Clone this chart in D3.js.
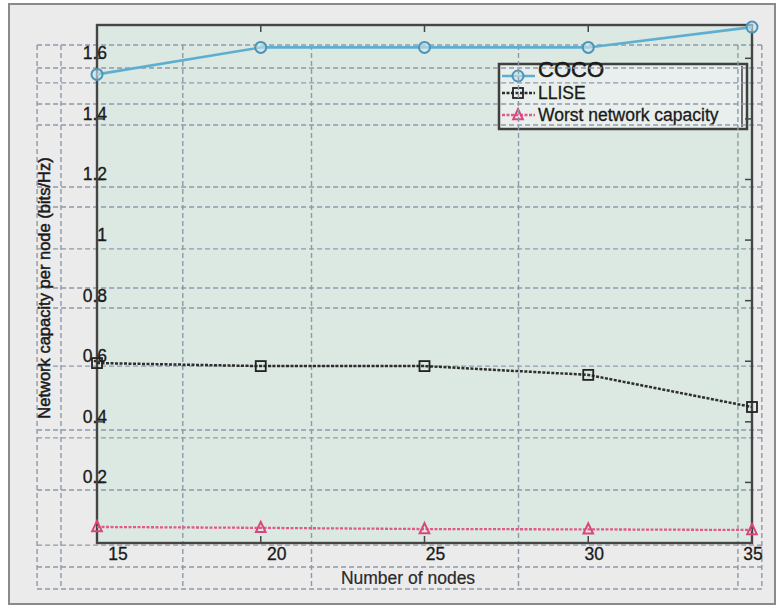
<!DOCTYPE html>
<html>
<head>
<meta charset="utf-8">
<script src="https://cdn.jsdelivr.net/npm/d3@7"></script>
<style>
  html, body { margin: 0; padding: 0; background: #fff; }
  svg { display: block; font-family: "Liberation Sans", Arial, sans-serif; }
</style>
</head>
<body>
<svg id="chart" width="782" height="607"></svg>
<script>
// ── Data ─────────────────────────────────────────────────────────────────────
const nodes = [15, 20, 25, 30, 35];
const coco = [1.547, 1.636, 1.636, 1.636, 1.703];
const llise = [0.594, 0.584, 0.584, 0.555, 0.449];
const worst = [0.053, 0.05, 0.046, 0.045, 0.043];

const yTicks = [0.2, 0.4, 0.6, 0.8, 1, 1.2, 1.4, 1.6];
const xTicks = [15, 20, 25, 30, 35];
const seriesNames = ["COCO", "LLISE", "Worst network capacity"];

// layout guide lines left over in the figure (in data units)
const guideX = [13.17, 13.9, 17.62, 21.55, 27.87, 34.57, 35.3];
const guideY = [1.644, 1.568, 1.519, 1.449, 1.38, 1.175, 1.109, 0.971, 0.842, 0.776,
  0.584, 0.373, 0.347, 0.175, -0.007, -0.079, -0.152];

// ── Chart ────────────────────────────────────────────────────────────────────
const svg = d3.select("#chart");
const plot = { left: 97, right: 752, top: 25, bottom: 543 };

const x = d3.scaleLinear().domain([15, 35]).range([plot.left, plot.right]);
const y = d3.scaleLinear().domain([0, 1.71]).range([plot.bottom, plot.top]);
// tick labels in the original sit a little right of their ticks
const xLabel = d3.scaleLinear().domain([15, 35]).range([118, 753]);

// figure frame
svg.append("rect").attr("x", 9).attr("y", 4).attr("width", 766).attr("height", 600)
  .attr("fill", "#ebebeb").attr("stroke", "#8a8a8a").attr("stroke-width", 2);

// axes background
svg.append("rect")
  .attr("x", plot.left).attr("y", plot.top)
  .attr("width", plot.right - plot.left).attr("height", plot.bottom - plot.top)
  .attr("fill", "#dce8e2");

// legend box
const legend = svg.append("g");
legend.append("rect").attr("x", 499).attr("y", 64).attr("width", 248).attr("height", 65)
  .attr("fill", "#e9efec").attr("stroke", "#3f3f3f").attr("stroke-width", 2.5);
legend.append("line").attr("x1", 742).attr("x2", 742).attr("y1", 66).attr("y2", 127)
  .attr("stroke", "#3f3f3f").attr("stroke-width", 1.5);

// guides
const guides = svg.append("g")
  .attr("stroke", "#8e99a9").attr("stroke-width", 1.4).attr("stroke-dasharray", "5,3").attr("fill", "none");
const gx0 = x(guideX[0]), gx1 = x(guideX[guideX.length - 1]);
const gy0 = y(guideY[0]), gy1 = y(guideY[guideY.length - 1]);
guideY.forEach((v) => {
  guides.append("line").attr("x1", gx0).attr("x2", gx1).attr("y1", y(v)).attr("y2", y(v));
});
guideX.forEach((v) => {
  guides.append("line").attr("x1", x(v)).attr("x2", x(v)).attr("y1", gy0).attr("y2", gy1);
});

// axes box and ticks
const axisColor = "#454545";
svg.append("rect")
  .attr("x", plot.left).attr("y", plot.top)
  .attr("width", plot.right - plot.left).attr("height", plot.bottom - plot.top)
  .attr("fill", "none").attr("stroke", axisColor).attr("stroke-width", 2.4);

const tickLen = 7;
const ticks = svg.append("g").attr("stroke", axisColor).attr("stroke-width", 1.5);
xTicks.slice(1, -1).forEach((v) => {
  ticks.append("line").attr("x1", x(v)).attr("x2", x(v)).attr("y1", plot.bottom).attr("y2", plot.bottom - tickLen);
  ticks.append("line").attr("x1", x(v)).attr("x2", x(v)).attr("y1", plot.top).attr("y2", plot.top + tickLen);
});
yTicks.forEach((v) => {
  ticks.append("line").attr("x1", plot.left).attr("x2", plot.left + tickLen).attr("y1", y(v)).attr("y2", y(v));
  ticks.append("line").attr("x1", plot.right).attr("x2", plot.right - tickLen).attr("y1", y(v)).attr("y2", y(v));
});

// tick labels
const textColor = "#1a1a1a";
svg.append("g").selectAll("text").data(yTicks).join("text")
  .attr("x", 107).attr("y", (d) => y(d) + 1)
  .attr("text-anchor", "end")
  .attr("font-size", "17.5px").attr("fill", textColor)
  .attr("stroke", textColor).attr("stroke-width", 0.3)
  .text((d) => d3.format("~g")(d));

svg.append("g").selectAll("text").data(xTicks).join("text")
  .attr("x", (d) => xLabel(d)).attr("y", 560)
  .attr("text-anchor", "middle")
  .attr("font-size", "17.5px").attr("fill", textColor)
  .attr("stroke", textColor).attr("stroke-width", 0.3)
  .text((d) => d);

// axis titles
svg.append("text")
  .attr("x", 408).attr("y", 584)
  .attr("text-anchor", "middle")
  .attr("font-size", "17.5px").attr("fill", "#2a2a2a")
  .attr("stroke", "#2a2a2a").attr("stroke-width", 0.2)
  .text("Number of nodes");

svg.append("text")
  .attr("transform", "translate(50,288) rotate(-90)")
  .attr("text-anchor", "middle")
  .attr("font-size", "16.5px").attr("fill", textColor)
  .attr("stroke", textColor).attr("stroke-width", 0.5)
  .text("Network capacity per node (bits/Hz)");

// ── Series ───────────────────────────────────────────────────────────────────
const styles = [
  { values: coco, color: "#5eaed0", width: 2.6, dash: null, marker: "circle" },
  { values: llise, color: "#2e2e2e", width: 2.5, dash: "3,1.5", marker: "square" },
  { values: worst, color: "#e05a8a", width: 2.3, dash: "3,1.5", marker: "triangle" },
];

function drawMarker(g, type, cx, cy) {
  if (type === "circle") {
    g.append("circle").attr("cx", cx).attr("cy", cy).attr("r", 5.5)
      .attr("fill", "#cfe4ea").attr("fill-opacity", 0.6).attr("stroke", "#4a95b8").attr("stroke-width", 2);
  } else if (type === "square") {
    g.append("rect").attr("x", cx - 5).attr("y", cy - 5).attr("width", 10).attr("height", 10)
      .attr("fill", "none").attr("stroke", "#222").attr("stroke-width", 1.8);
  } else {
    const s = 6;
    g.append("path")
      .attr("d", `M${cx},${cy - s}L${cx + s * 0.8},${cy + s * 0.7}L${cx - s * 0.8},${cy + s * 0.7}Z`)
      .attr("fill", "none").attr("stroke", "#d9467c").attr("stroke-width", 2);
  }
}

const line = d3.line().x((d) => x(d[0])).y((d) => y(d[1]));
styles.forEach((s) => {
  const pts = nodes.map((n, i) => [n, s.values[i]]);
  const g = svg.append("g");
  g.append("path").datum(pts)
    .attr("d", line)
    .attr("fill", "none")
    .attr("stroke", s.color).attr("stroke-width", s.width)
    .attr("stroke-dasharray", s.dash);
  pts.forEach((p) => drawMarker(g, s.marker, x(p[0]), y(p[1])));
});

// legend entries
const legendRows = [76, 93, 115];
seriesNames.forEach((name, i) => {
  const s = styles[i];
  const ly = legendRows[i];
  legend.append("line").attr("x1", 502).attr("x2", 535).attr("y1", ly).attr("y2", ly)
    .attr("stroke", s.color).attr("stroke-width", s.width).attr("stroke-dasharray", s.dash);
  drawMarker(legend, s.marker, 518, ly);
  legend.append("text")
    .attr("x", 538).attr("y", i === 0 ? ly + 1 : ly + 6)
    .attr("font-size", i === 0 ? "22px" : "17.5px")
    .attr("fill", textColor)
    .attr("stroke", textColor).attr("stroke-width", i === 0 ? 0.6 : 0.3)
    .text(name);
});
</script>
</body>
</html>
